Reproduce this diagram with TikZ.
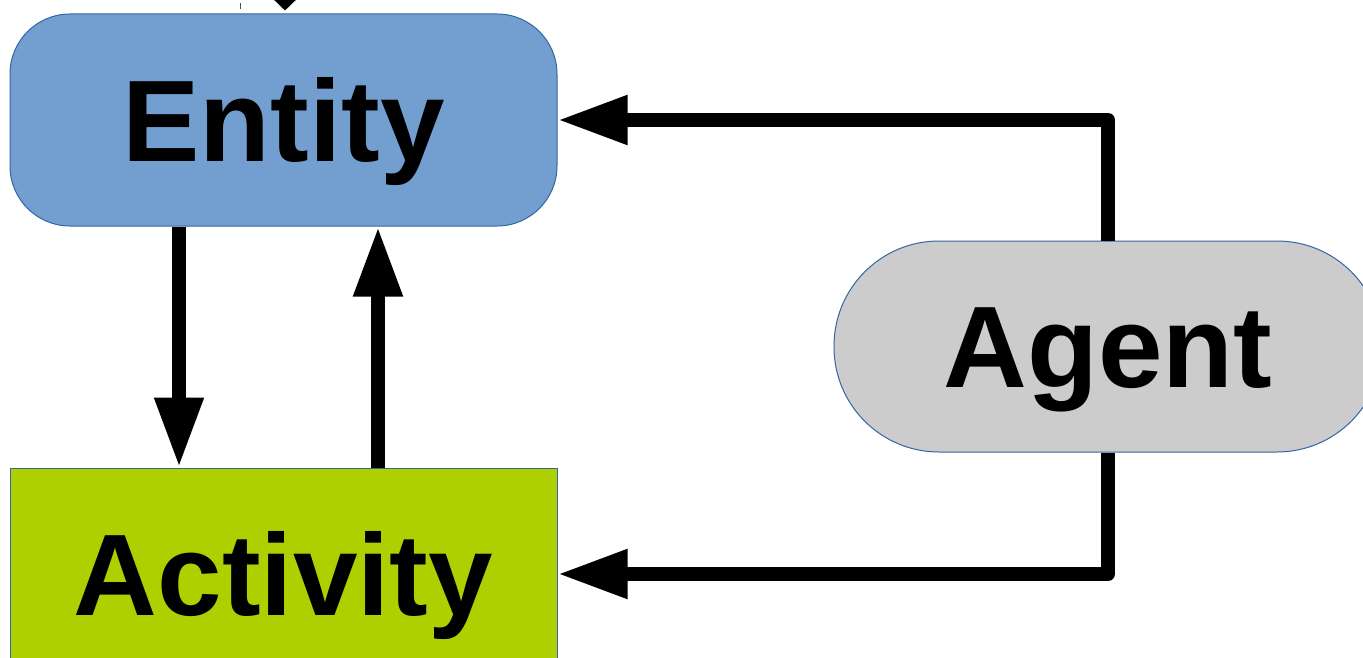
\documentclass[tikz,border=0pt]{standalone}
\usepackage{fontspec}
\setmainfont{Liberation Sans}
\usetikzlibrary{arrows.meta,calc}
\definecolor{entblue}{HTML}{729FCF}
\definecolor{actgreen}{HTML}{AFD000}
\definecolor{agtgray}{HTML}{CCCCCC}
\definecolor{edgeblue}{HTML}{3465A4}
\tikzset{
  box/.style={draw=edgeblue, line width=1pt, minimum width=547pt, minimum height=212pt, inner sep=0pt,
    text height=82pt, text depth=0pt,
    font=\fontsize{116}{139}\selectfont\bfseries},
  conn/.style={line width=14pt, line join=round, -{Triangle[length=70pt,width=46pt]}},
}
\begin{document}
\begin{tikzpicture}[x=1pt,y=-1pt]
\useasboundingbox (0,0) rectangle (1363,658);
\begin{scope}
\clip (0,0) rectangle (1363,658);
\fill[white] (0,0) rectangle (1363,658);
\node[box, fill=entblue, rounded corners=60pt] (entity) at (283.5,120) {Entity};
\node[box, fill=actgreen, rounded corners=0pt] (activity) at (283.5,574) {Activity};
\node[box, fill=agtgray, rounded corners=105pt, minimum width=548pt, minimum height=211pt] (agent) at (1108,346.5) {Agent};
\coordinate (topin) at (285,-60);
\draw[line width=10pt, -{Triangle[length=22pt,width=44pt]}] (topin) -- ($(entity.north -| topin)+(0,-3)$);
\draw[line width=0.8pt, black!70] (240,3) -- (240,9);
\draw[conn] ($(entity.south)+(-104.5,0)$) -- ($(activity.north)+(-104.5,0)$);
\draw[conn] ($(activity.north)+(94.5,0)$) -- ($(entity.south)+(94.5,0)$);
\draw[conn] (agent.north) |- (entity.east);
\draw[conn] (agent.south) |- (activity.east);
\end{scope}
\end{tikzpicture}
\end{document}
